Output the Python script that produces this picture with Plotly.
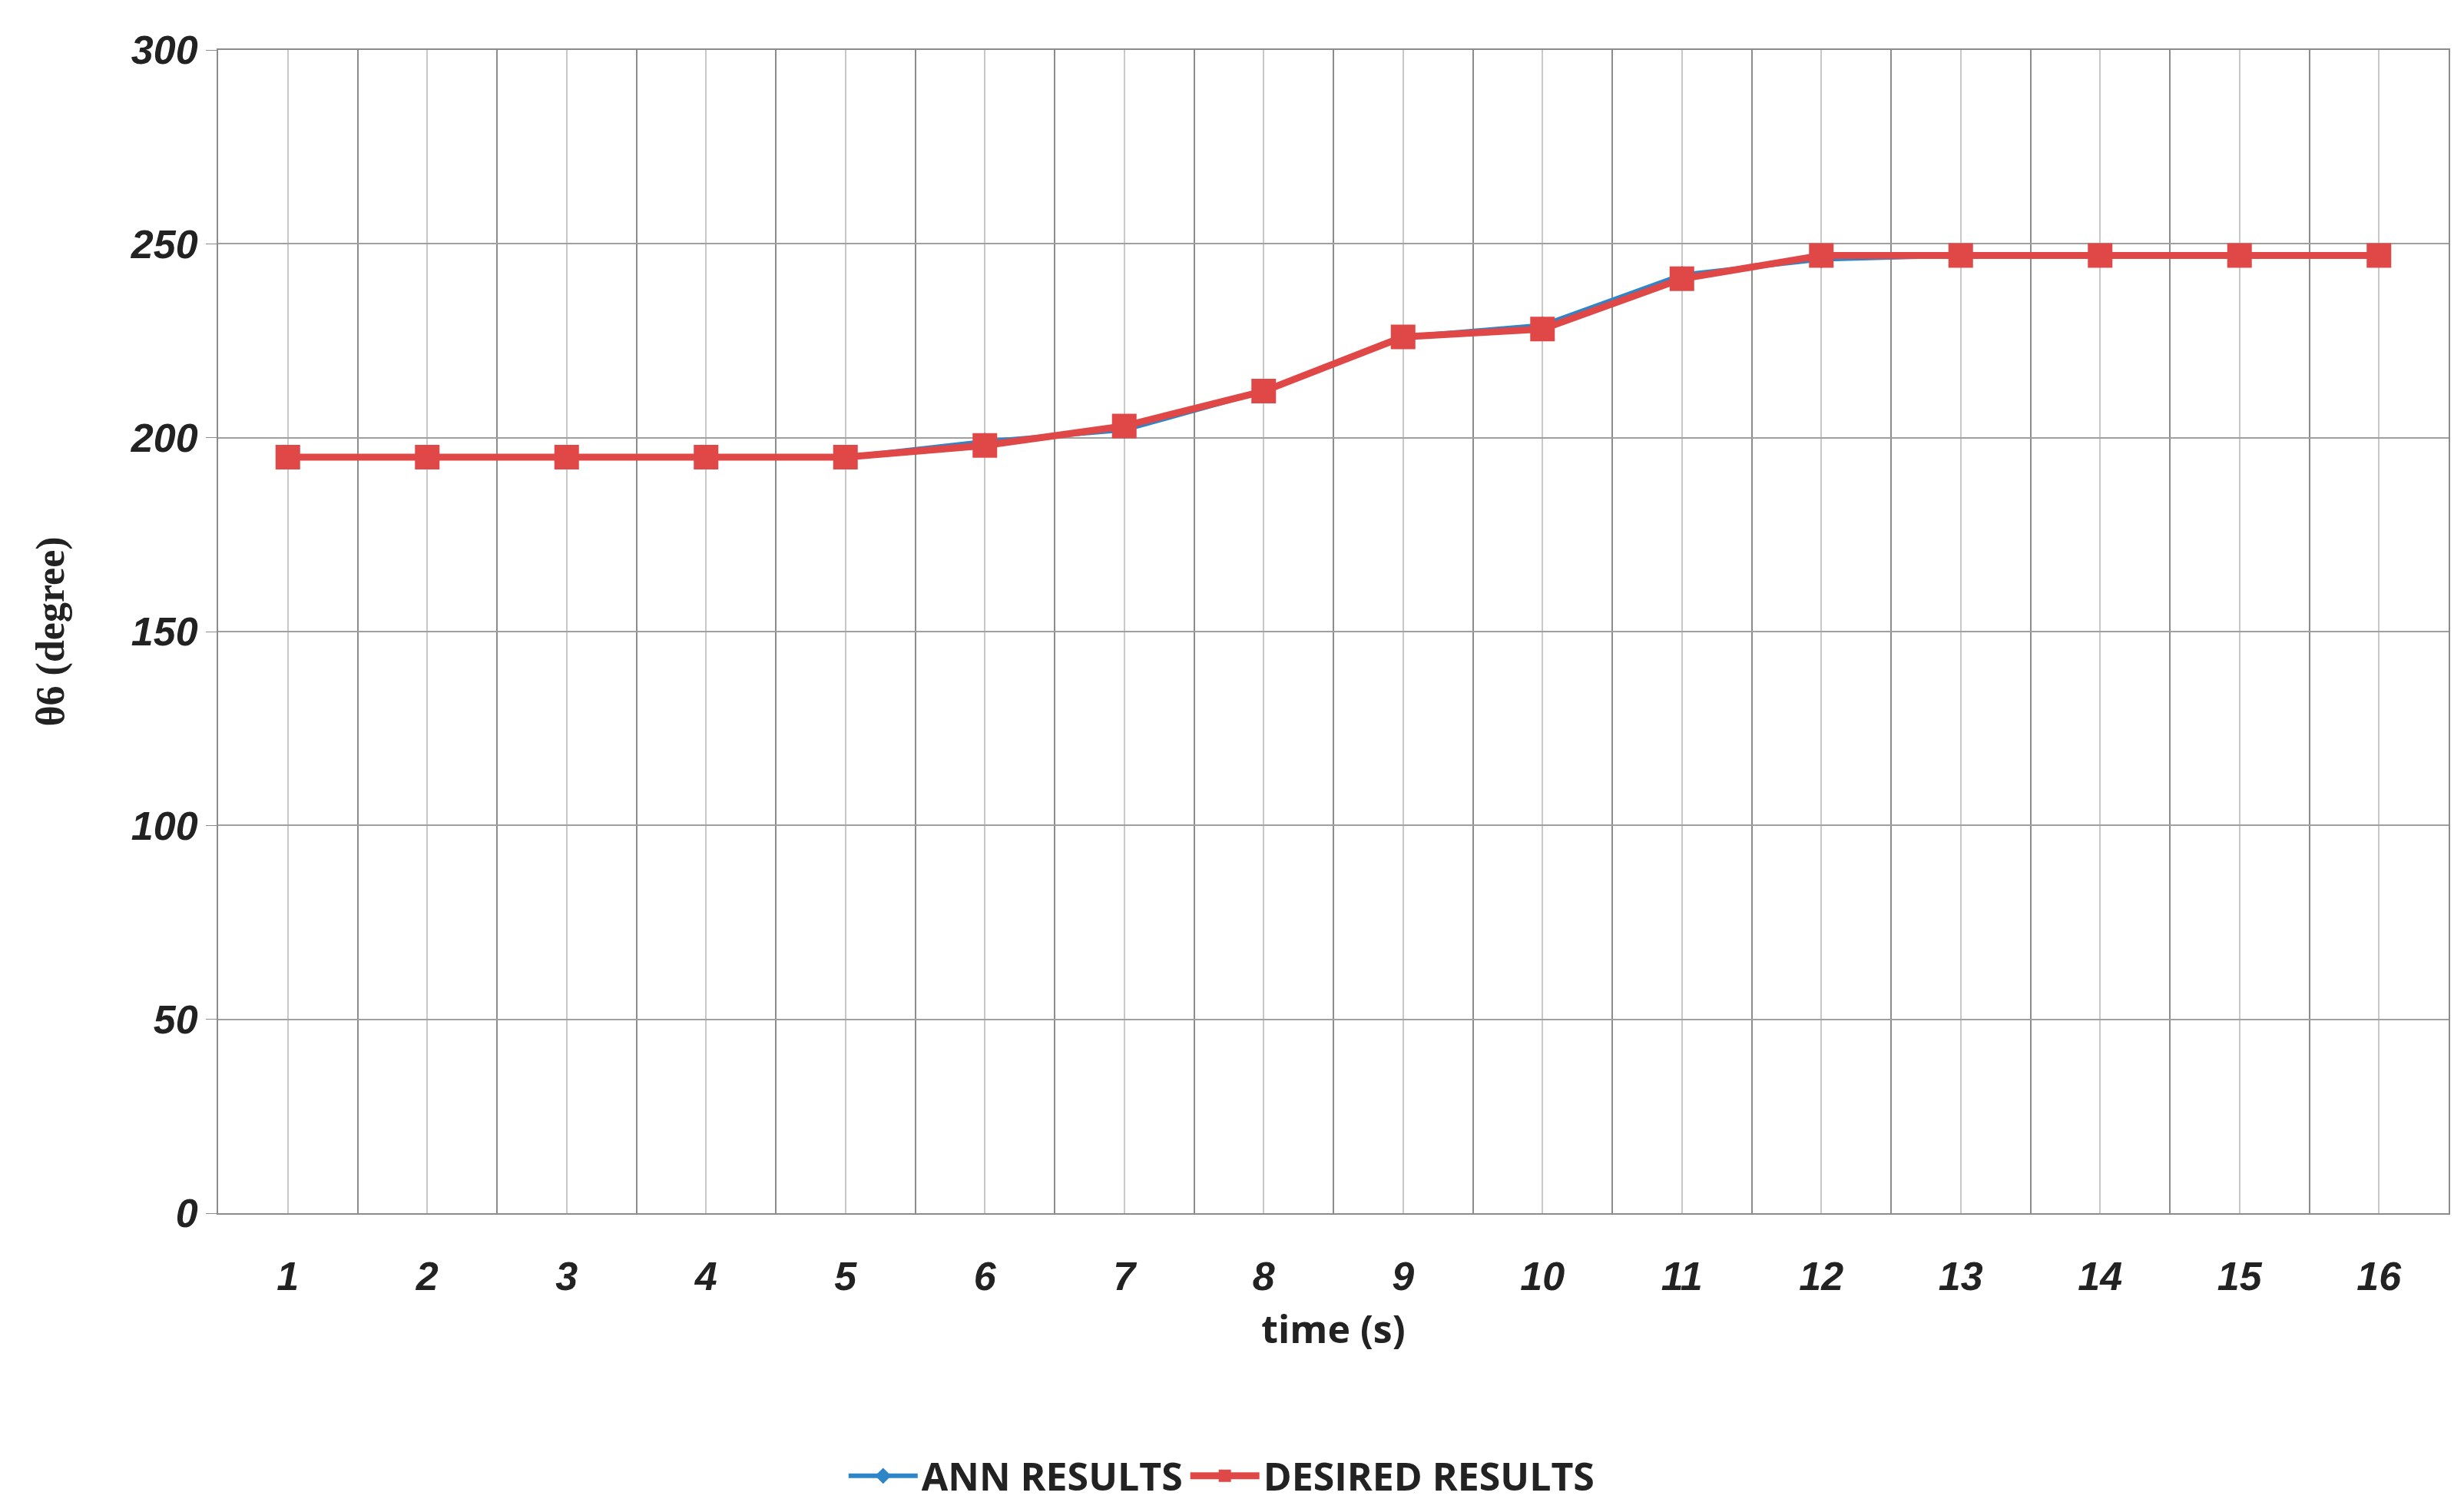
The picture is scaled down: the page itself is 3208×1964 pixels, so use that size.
import plotly.graph_objects as go

time_s = list(range(1, 17))
ann_results = [195, 195, 195, 195, 195, 199, 202, 212, 226, 229, 242, 246, 247, 247, 247, 247]
desired_results = [195, 195, 195, 195, 195, 198, 203, 212, 226, 228, 241, 247, 247, 247, 247, 247]

fig = go.Figure()
fig.add_trace(go.Scatter(x=time_s, y=ann_results, name="<b>ANN RESULTS</b>", mode="lines+markers",
                         line=dict(color="#2E86C8", width=6),
                         marker=dict(symbol="diamond", size=18, color="#2E86C8")))
fig.add_trace(go.Scatter(x=time_s, y=desired_results, name="<b>DESIRED RESULTS</b>", mode="lines+markers",
                         line=dict(color="#E04848", width=9),
                         marker=dict(symbol="square", size=32, color="#E04848")))

tickfont = dict(family="Liberation Sans", size=52, color="#222")
fig.update_layout(
    width=3208, height=1964,
    paper_bgcolor="white", plot_bgcolor="white",
    margin=dict(l=276, r=28, t=57, b=372),
    xaxis=dict(range=[0.5, 16.5], tickmode="array", tickvals=time_s,
               ticktext=[f"<b><i>{v}</i></b>" for v in time_s], tickfont=tickfont,
               showgrid=True, gridcolor="#C8C8C8", gridwidth=2,
               minor=dict(tickmode="linear", tick0=0.5, dtick=1, showgrid=True, gridcolor="#8C8C8C", gridwidth=2),
               showline=True, linecolor="#8C8C8C", linewidth=2, mirror=True, zeroline=False,
               ticks="outside", ticklen=36, tickcolor="rgba(0,0,0,0)",
               title=dict(text="<b>time (s)</b>", font=dict(family="Open Sans", size=50, color="#222"), standoff=24)),
    yaxis=dict(range=[0, 300], tickvals=list(range(0, 301, 50)),
               ticktext=[f"<b><i>{v}</i></b>" for v in range(0, 301, 50)], tickfont=tickfont,
               showgrid=True, gridcolor="#A0A0A0", gridwidth=2,
               showline=True, linecolor="#8C8C8C", linewidth=2, mirror=True, zeroline=False,
               ticks="outside", ticklen=14, tickcolor="#8C8C8C",
               title=dict(text="<b>θ6 (degree)</b>", font=dict(family="Liberation Serif", size=52, color="#222"), standoff=70)),
    legend=dict(orientation="h", x=0.45, xanchor="center", y=-0.2, yanchor="top",
                font=dict(family="Open Sans", size=50, color="#222"), itemwidth=90, tracegroupgap=0),
)
fig.write_html("out.html")
